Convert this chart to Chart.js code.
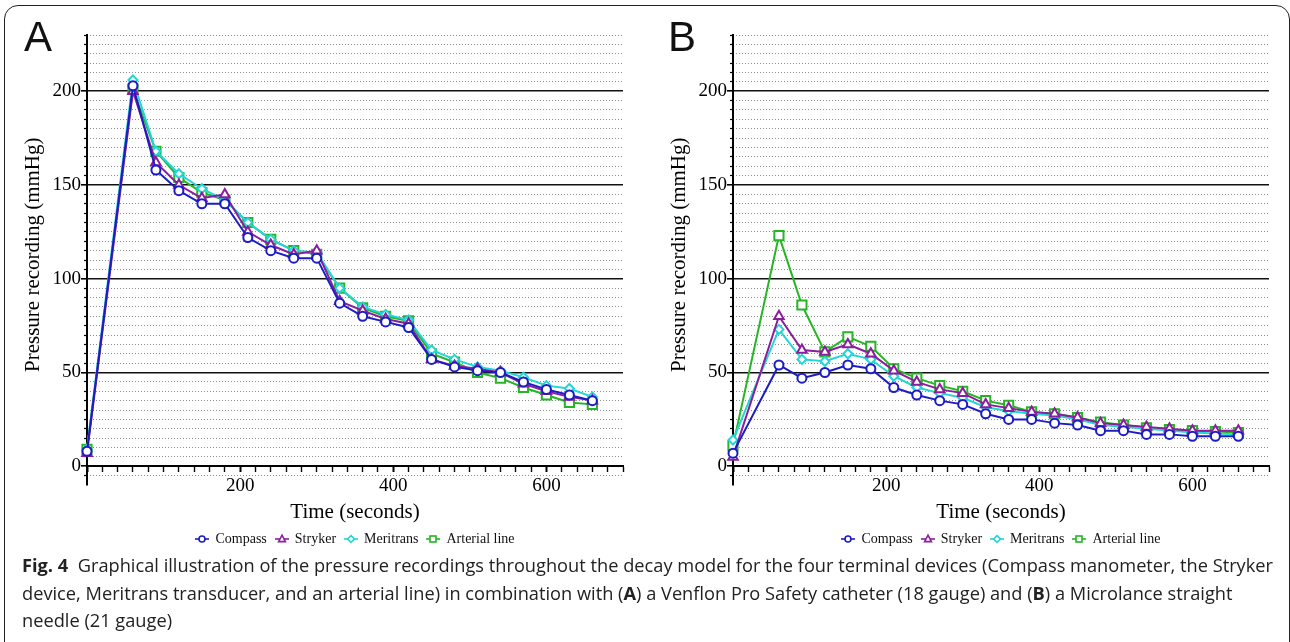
<!DOCTYPE html>
<html>
<head>
<meta charset="utf-8">
<script src="https://cdn.jsdelivr.net/npm/chart.js@4.4.1/dist/chart.umd.min.js"></script>
<style>
  html, body { margin: 0; padding: 0; background: #fff; }
  body { width: 1290px; height: 642px; position: relative; overflow: hidden; }
  .frame { position: absolute; left: 4px; top: 5px; width: 1286px; height: 700px; border: 1.5px solid #222; border-radius: 14px; box-sizing: border-box; }
  canvas { position: absolute; top: 0; }
  #chartA { left: 0; }
  #chartB { left: 646px; }
  .panel-label { position: absolute; top: 16px; font: 42px/42px "Liberation Sans", Arial, sans-serif; color: #111; }
  .legend { position: absolute; top: 530px; width: 536px; height: 18px; text-align: center; white-space: nowrap;
    font: 14px/18px "Liberation Serif", "Times New Roman", serif; color: #111; }
  .legend-item { display: inline-block; margin: 0 4px; }
  .legend-item svg { vertical-align: -2px; margin-right: 6px; }
  .caption { position: absolute; left: 22px; top: 552px; font-family: "Open Sans", sans-serif; font-size: 18px; line-height: 27.5px; color: #222; }
  .caption .line { white-space: nowrap; height: 27.5px; }
  .caption .line span { display: inline-block; transform-origin: 0 50%; }
</style>
</head>
<body>
<div class="frame"></div>
<canvas id="chartA" width="645" height="544"></canvas>
<canvas id="chartB" width="644" height="544"></canvas>
<div class="panel-label" style="left:24px">A</div>
<div class="panel-label" style="left:668px">B</div>
<div class="legend" id="legendA" style="left:87px"></div>
<div class="legend" id="legendB" style="left:733px"></div>
<div class="caption">
  <div class="line"><span><b>Fig. 4</b>&nbsp; Graphical illustration of the pressure recordings throughout the decay model for the four terminal devices (Compass manometer, the Stryker</span></div>
  <div class="line"><span>device, Meritrans transducer, and an arterial line) in combination with (<b>A</b>) a Venflon Pro Safety catheter (18 gauge) and (<b>B</b>) a Microlance straight</span></div>
  <div class="line"><span>needle (21 gauge)</span></div>
</div>
<script>
const SERIF = '"Liberation Serif", "Times New Roman", serif';

const TIMES = [0, 60, 90, 120, 150, 180, 210, 240, 270, 300, 330, 360, 390, 420, 450, 480, 510, 540, 570, 600, 630, 660];
const DEVICES = ["Compass", "Stryker", "Meritrans", "Arterial line"];

// panel A: Venflon catheter (18 G)
const compassA = [8, 203, 158, 147, 140, 140, 122, 115, 111, 111, 87, 80, 77, 74, 57, 53, 51, 50, 45, 41, 38, 35];
const strykerA = [7, 200, 162, 150, 143, 145, 125, 118, 113, 115, 88, 83, 78.5, 76, 57, 53.5, 52, 50, 44, 40, 37, 35];
const meritransA = [9, 206, 168, 156, 148, 142, 130, 121, 115, 114, 95, 85, 81, 78, 62, 57, 53, 51, 47.5, 43, 41.5, 37];
const arterialA = [9, 201, 168, 154, 146, 142, 130, 121, 115, 113, 95, 84.5, 80, 77.5, 60, 55.5, 50, 47, 42, 38, 34, 33];

// panel B: Microlance needle (21 G)
const compassB = [7, 54, 47, 50, 54, 52, 42, 38, 35, 33, 28, 25, 25, 23, 22, 19, 19, 17, 17, 16, 16, 16];
const strykerB = [5, 80, 62, 61, 65, 60, 51, 45, 41, 39, 33, 31, 29, 28, 26, 23, 22, 21, 20, 19, 19, 19];
const meritransB = [14, 73, 57, 56, 60, 57, 48, 42, 39, 36.5, 31.5, 29.5, 28, 27, 25, 22, 21, 20, 19, 18, 17.5, 17];
const arterialB = [11, 123, 86, 61, 69, 64, 52, 47, 43, 40, 35, 32.5, 29, 28, 26, 23.5, 22, 20.5, 19.5, 19, 18.5, 18];

const X_LABELS = [200, 400, 600];
const Y_LABELS = [0, 50, 100, 150, 200];

const STYLES = {
  "Compass": { color: "#1c1cc4", point: "circle", radius: 4.5 },
  "Stryker": { color: "#8a1e9e", point: "triangle", radius: 5.5 },
  "Meritrans": { color: "#22d6d6", point: "rectRot", radius: 4.5 },
  "Arterial line": { color: "#25b525", point: "rect", radius: 6.5 },
};

function buildDatasets(series) {
  return DEVICES.map((name, i) => ({
    label: name,
    data: TIMES.map((t, j) => ({ x: t, y: series[i][j] })),
    borderColor: STYLES[name].color,
    backgroundColor: "#fff",
    borderWidth: 2,
    pointStyle: STYLES[name].point,
    pointRadius: STYLES[name].radius,
    pointBorderWidth: 2,
    tension: 0,
    clip: false,
  }));
}

function chartOptions(padRight) {
  const isMajor = (v) => v % 50 === 0 && v >= 0;
  return {
    responsive: false,
    animation: false,
    // the x axis sits on y = 0 and reserves no room, so keep its space by hand
    layout: { padding: { left: 0, top: 35, right: padRight, bottom: 59 } },
    plugins: { legend: { display: false }, tooltip: { enabled: false } },
    scales: {
      x: {
        type: "linear",
        min: 0,
        max: 700,
        position: { y: 0 },
        afterFit(scale) { scale.height = 59; },
        border: { display: true, color: "#000", width: 2 },
        grid: {
          drawOnChartArea: false,
          tickLength: 5,
          tickColor: "#000",
          tickWidth: (c) => (c.tick && c.tick.value % 200 === 0 ? 2 : 1.4),
        },
        ticks: {
          stepSize: 20,
          autoSkip: false,
          maxRotation: 0,
          padding: 3,
          color: "#000",
          font: { family: SERIF, size: 19 },
          callback: (v) => (X_LABELS.includes(v) ? v : ""),
        },
        title: { display: true, text: "Time (seconds)", color: "#000", font: { family: SERIF, size: 21 }, padding: 0 },
      },
      y: {
        type: "linear",
        min: -10,
        max: 230,
        weight: 1,
        afterFit(scale) { scale.width = 87; },
        border: { display: true, color: "#000", width: 2 },
        grid: {
          color: (c) => (c.tick && isMajor(c.tick.value) ? "#111" : "rgba(0,0,0,0)"),
          lineWidth: 1.6,
          tickLength: 6,
          tickColor: (c) => (c.tick && isMajor(c.tick.value) ? "#000" : "rgba(0,0,0,0)"),
          tickWidth: 1.6,
        },
        ticks: {
          stepSize: 5,
          autoSkip: false,
          padding: 0,
          color: "#000",
          font: { family: SERIF, size: 19 },
          callback: (v) => (Y_LABELS.includes(v) ? v : ""),
        },
        title: {
          display: true,
          // two leading spaces lift the centred title a little, as in the original
          text: "  Pressure recording (mmHg)",
          color: "#000",
          font: { family: SERIF, size: 21 },
          padding: { top: 21, bottom: 0 },
        },
      },
      // dotted minor grid every 5 mmHg
      y2: {
        type: "linear",
        min: -10,
        max: 230,
        position: "left",
        weight: 0,
        afterFit(scale) { scale.width = 0; },
        border: { display: false, dash: [1, 2] },
        grid: {
          color: (c) => (c.tick && !isMajor(c.tick.value) && c.tick.value !== -10 ? "#8c8c8c" : "rgba(0,0,0,0)"),
          lineWidth: 1,
          tickLength: 3,
          tickColor: (c) => (c.tick && !isMajor(c.tick.value) && c.tick.value !== -10 ? "#000" : "rgba(0,0,0,0)"),
          tickWidth: 1.2,
        },
        ticks: { stepSize: 5, autoSkip: false, display: false },
      },
    },
  };
}

function markerSvg(name) {
  const s = STYLES[name];
  const c = s.color;
  let shape = "";
  if (s.point === "circle") shape = `<circle cx="7" cy="6" r="3" fill="#fff" stroke="${c}" stroke-width="1.6"/>`;
  else if (s.point === "triangle") shape = `<polygon points="7,2.2 10.4,8.6 3.6,8.6" fill="#fff" stroke="${c}" stroke-width="1.6"/>`;
  else if (s.point === "rectRot") shape = `<polygon points="7,2.6 10.4,6 7,9.4 3.6,6" fill="#fff" stroke="${c}" stroke-width="1.6"/>`;
  else shape = `<rect x="4" y="3" width="6" height="6" fill="#fff" stroke="${c}" stroke-width="1.6"/>`;
  return `<svg width="14" height="12"><line x1="0" y1="6" x2="14" y2="6" stroke="${c}" stroke-width="1.6"/>${shape}</svg>`;
}

function renderLegend(el) {
  el.innerHTML = DEVICES.map((d) => `<span class="legend-item">${markerSvg(d)}${d}</span>`).join("");
}

new Chart(document.getElementById("chartA"), {
  type: "line",
  data: { datasets: buildDatasets([compassA, strykerA, meritransA, arterialA]) },
  options: chartOptions(22),
});

new Chart(document.getElementById("chartB"), {
  type: "line",
  data: { datasets: buildDatasets([compassB, strykerB, meritransB, arterialB]) },
  options: chartOptions(21),
});

renderLegend(document.getElementById("legendA"));
renderLegend(document.getElementById("legendB"));

// squeeze caption lines to the condensed width of the original
const lines = document.querySelectorAll(".caption .line span");
const squeeze = 1251 / lines[0].getBoundingClientRect().width;
lines.forEach((l) => { l.style.transform = `scaleX(${squeeze})`; });
</script>
</body>
</html>
